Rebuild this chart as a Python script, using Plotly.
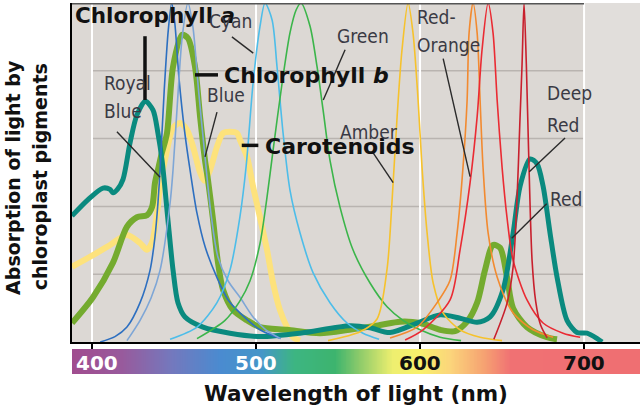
import numpy as np
import plotly.graph_objects as go

# ---------------- data ----------------
CHLA_NM = [387.8, 397.6, 406.7, 411.0, 412.8, 415.5, 418.9, 423.2, 427.4, 432.5, 437.2, 440.2, 442.7,
           446.3, 449.4, 452.4, 456.7, 467.7, 484.1, 502.4, 526.8, 557.3, 569.5, 581.7, 598.2, 612.2,
           624.4, 634.8, 642.7, 650.6, 656.7, 661.0, 667.1, 671.3, 675.0, 679.3, 683.5, 689.6, 695.7,
           701.8, 708.0, 711.0]
CHLA_V = [1.86, 2.10, 2.27, 2.25, 2.20, 2.25, 2.40, 2.94, 3.35, 3.55, 3.42, 3.08, 2.68,
          1.80, 1.06, 0.58, 0.37, 0.22, 0.13, 0.08, 0.13, 0.24, 0.21, 0.14, 0.28, 0.40,
          0.35, 0.29, 0.37, 0.77, 1.60, 2.30, 2.70, 2.63, 2.30, 1.60, 0.96, 0.32, 0.14,
          0.13, 0.05, 0.0]

CHLB_NM = [387.8, 400.6, 412.8, 421.3, 427.4, 433.5, 436.6, 438.4, 440.2, 442.5, 445.7, 449.4, 454.9,
           458.5, 462.8, 465.9, 468.9, 470.7, 473.8, 476.8, 479.9, 486.0, 494.5, 502.4, 519.0, 539.0,
           557.0, 575.6, 587.8, 600.0, 612.2, 621.3, 628.7, 634.8, 639.6, 644.5, 648.8, 653.0, 656.7,
           665.2, 677.4, 683.5]
CHLB_V = [0.28, 0.66, 1.17, 1.70, 1.84, 1.87, 1.99, 2.35, 2.54, 2.78, 3.08, 4.06, 4.53,
          4.48, 4.06, 3.32, 2.68, 2.39, 1.80, 1.17, 0.77, 0.47, 0.32, 0.22, 0.18, 0.13,
          0.18, 0.25, 0.30, 0.28, 0.18, 0.16, 0.30, 0.58, 1.06, 1.43, 1.39, 0.96, 0.50,
          0.22, 0.07, 0.04]

CARO_NM = [387.8, 400.6, 411.0, 421.3, 429.3, 433.5, 436.6, 439.6, 441.5, 445.7, 449.4, 453.7, 457.9,
           461.6, 465.9, 468.5, 472.0, 476.2, 479.9, 484.1, 488.4, 490.2, 494.5, 498.2, 502.4, 506.7,
           510.4, 514.6, 518.9, 522.6, 526.8]
CARO_V = [1.11, 1.28, 1.43, 1.58, 1.46, 1.36, 1.47, 1.90, 2.29, 2.83, 3.16, 3.23, 3.13,
          2.88, 2.50, 2.38, 2.54, 2.88, 3.08, 3.10, 3.08, 2.98, 2.73, 2.29, 1.84, 1.36,
          0.87, 0.47, 0.22, 0.07, 0.02]

ROYAL_NM = [405.0, 414.0, 421.3, 429.3, 435.4, 438.4, 440.2, 441.5, 444.0, 446.5, 448.6, 450.5, 453.0,
            456.5, 460.0, 464.0, 469.0, 476.2, 483.0, 490.2, 502.4, 515.0]
ROYAL_V = [0.0, 0.08, 0.22, 0.58, 1.06, 1.55, 2.05, 2.54, 3.7, 4.6, 5.0, 4.7, 3.9,
           3.1, 2.5, 1.9, 1.4, 0.95, 0.62, 0.43, 0.18, 0.05]

BLUE_NM = [421.3, 429.3, 436.0, 441.5, 447.6, 449.4, 452.0, 455.0, 458.5, 461.5, 465.0, 468.9, 472.5,
           476.8, 483.0, 490.2, 498.2, 506.0, 515.0]
BLUE_V = [0.02, 0.32, 0.65, 1.06, 2.05, 2.54, 3.5, 4.5, 5.0, 4.65, 3.7, 2.73, 1.9,
          1.25, 0.9, 0.66, 0.37, 0.18, 0.05]

CYAN_NM = [447.6, 464.0, 476.2, 484.1, 490.2, 494.0, 498.2, 502.4, 505.5, 509.8, 512.8, 516.5, 520.7,
           526.8, 534.8, 545.1, 555.5, 565.2, 575.0]
CYAN_V = [0.04, 0.22, 0.58, 1.06, 1.85, 2.6, 3.82, 4.65, 5.0, 4.75, 4.06, 3.08, 2.24,
          1.61, 1.02, 0.58, 0.28, 0.13, 0.04]

GREEN_NM = [464.0, 481.1, 490.0, 496.3, 502.4, 506.5, 510.4, 515.9, 520.7, 524.5, 527.4, 532.9, 537.2,
            540.9, 545.1, 551.2, 559.1, 569.5, 579.9, 589.6, 600.0, 612.2, 625.0]
GREEN_V = [0.05, 0.32, 0.6, 0.9, 1.45, 2.1, 2.83, 3.82, 4.56, 4.9, 5.0, 4.66, 4.06,
           3.42, 2.68, 1.99, 1.36, 0.87, 0.52, 0.32, 0.18, 0.07, 0.02]

AMBER_NM = [543.9, 563.4, 573.8, 579.9, 582.9, 586.0, 589.0, 592.7, 595.7, 598.8, 601.2, 604.3, 608.0,
            614.0, 624.4, 636.6, 650.0]
AMBER_V = [0.02, 0.15, 0.34, 1.08, 2.07, 3.32, 4.31, 5.0, 4.56, 3.57, 2.58, 1.61, 0.87,
           0.43, 0.18, 0.07, 0.02]

REDOR_NM = [581.7, 598.2, 610.4, 618.3, 622.6, 626.2, 628.7, 629.9, 632.3, 634.8, 636.6, 638.4, 641.5,
            647.0, 656.7, 668.9, 681.1]
REDOR_V = [0.06, 0.22, 0.58, 0.91, 1.61, 2.58, 3.57, 4.56, 5.0, 4.56, 3.57, 2.58, 1.61,
           0.96, 0.43, 0.18, 0.07]

RED_NM = [590.9, 601.8, 618.3, 624.4, 630.5, 634.8, 637.8, 641.5, 644.5, 647.0, 650.0, 653.0, 656.7,
          665.2, 675.0, 687.2, 697.6]
RED_V = [0.03, 0.18, 0.62, 1.36, 2.35, 3.32, 4.31, 5.0, 4.56, 3.57, 2.58, 1.84, 1.21,
         0.62, 0.28, 0.13, 0.07]

DEEP_NM = [645.0, 653.0, 656.7, 659.1, 660.8, 662.2, 663.4, 664.8, 666.2, 668.3, 670.5, 673.5, 677.5]
DEEP_V = [0.04, 0.57, 1.1, 2.1, 3.2, 4.1, 5.0, 4.1, 2.8, 1.2, 0.6, 0.25, 0.06]

TICK_NM = [400, 500, 600, 700]
TICK_LABELS = ["400", "500", "600", "700"]
GRID_V = [1, 2, 3, 4]

SPEC_NM = [386, 418, 448, 478, 503, 523, 548, 563, 583, 600, 618, 638, 655, 734]
SPEC_COL = ["#a14c8e", "#985a9c", "#7478bd", "#4a8bd0", "#4596c8", "#3db582", "#3db46e",
            "#8ecb6a", "#eeef6f", "#f8f06c", "#fbd57b", "#f6a472", "#f07173", "#ef6f72"]

X0, X1 = 387.8, 734.1

fig = go.Figure()

# spectrum bar
spec_x = np.arange(386.0, 735.0, 1.0)
cs = [[(nm - SPEC_NM[0]) / (SPEC_NM[-1] - SPEC_NM[0]), c] for nm, c in zip(SPEC_NM, SPEC_COL)]
fig.add_trace(go.Heatmap(x=spec_x, y=[0, 1], z=[spec_x, spec_x], colorscale=cs,
                         zmin=SPEC_NM[0], zmax=SPEC_NM[-1], showscale=False, zsmooth="best",
                         xaxis="x", yaxis="y2", hoverinfo="skip"))

def line(xs, ys, color, width):
    fig.add_trace(go.Scatter(x=xs, y=ys, mode="lines", line=dict(color=color, width=width, shape="spline", smoothing=0.8),
                             hoverinfo="skip", showlegend=False))

line(CARO_NM, CARO_V, "#fde27c", 6)
line(CHLB_NM, CHLB_V, "#74ab2f", 6)
line(CHLA_NM, CHLA_V, "#0a8a7f", 5)
line(ROYAL_NM, ROYAL_V, "#2d6fc0", 1.6)
line(BLUE_NM, BLUE_V, "#7ea6d6", 1.6)
line(CYAN_NM, CYAN_V, "#4dbde9", 1.6)
line(GREEN_NM, GREEN_V, "#3bb54a", 1.6)
line(AMBER_NM, AMBER_V, "#f6c22c", 1.6)
line(REDOR_NM, REDOR_V, "#f28a30", 1.6)
line(RED_NM, RED_V, "#ea2b33", 1.6)
line(DEEP_NM, DEEP_V, "#c8202d", 1.6)

shapes = []
shapes.append(dict(type="rect", xref="x", yref="y", x0=700, x1=X1, y0=0, y1=5,
                   fillcolor="#e1dedb", line=dict(width=0), layer="below"))
for g in GRID_V:
    shapes.append(dict(type="line", xref="x", yref="y", x0=400, x1=700, y0=g, y1=g,
                       line=dict(color="#b9b4b0", width=1.5), layer="below"))
for t in TICK_NM:
    shapes.append(dict(type="line", xref="x", yref="y", x0=t, x1=t, y0=0, y1=5,
                       line=dict(color="white", width=2), layer="below"))
shapes.append(dict(type="line", xref="x", yref="y", x0=X0, x1=700, y0=4.99, y1=4.99,
                   line=dict(color="#555555", width=1.5), layer="above"))

# label pointers
POINTERS = [(415.2, 3.10, 441.5, 2.43), (476.2, 3.39, 468.9, 2.73), (485.3, 4.50, 498.3, 4.26),
            (554.3, 4.31, 541.0, 3.57), (571.4, 2.79, 583.6, 2.35), (614.1, 4.18, 630.5, 2.44),
            (688.4, 3.01, 666.6, 2.51), (677.2, 2.04, 655.9, 1.53)]
for x0, y0, x1, y1 in POINTERS:
    shapes.append(dict(type="line", xref="x", yref="y", x0=x0, y0=y0, x1=x1, y1=y1,
                       line=dict(color="#2a2a2a", width=1.4), layer="above"))
BOLD_POINTERS = [(432.3, 4.51, 432.3, 3.57), (462.8, 3.94, 476.8, 3.94), (491.3, 2.90, 501.4, 2.90)]
for x0, y0, x1, y1 in BOLD_POINTERS:
    shapes.append(dict(type="line", xref="x", yref="y", x0=x0, y0=y0, x1=x1, y1=y1,
                       line=dict(color="#111111", width=3.5), layer="above"))

BOLD = "DejaVu Sans"
NARROW = "Liberation Sans Narrow, DejaVu Sans Condensed, Liberation Sans, sans-serif"
anns = []

def ann(text, x, y, size, color, family, xanchor="left", weight="normal", xref="x", yref="y", angle=0):
    anns.append(dict(text=text, x=x, y=y, xref=xref, yref=yref, xanchor=xanchor, yanchor="middle",
                     showarrow=False, textangle=angle,
                     font=dict(family=family, size=size, color=color, weight=weight)))

ann("Chlorophyll <i>a</i>", 388.4, 4.81, 21.5, "#111111", BOLD, weight="bold")
ann("Chlorophyll <i>b</i>", 479.3, 3.93, 22, "#111111", BOLD, weight="bold")
ann("Carotenoids", 504.3, 2.88, 22, "#111111", BOLD, weight="bold")

LC = "#3a3a44"
ann("Royal", 406.1, 3.82, 19, LC, NARROW)
ann("Blue", 406.1, 3.40, 19, LC, NARROW)
ann("Blue", 468.9, 3.64, 19, LC, NARROW)
ann("Cyan", 470.1, 4.73, 19, LC, NARROW)
ann("Green", 548.2, 4.51, 19, LC, NARROW)
ann("Amber", 550.0, 3.10, 19, LC, NARROW)
ann("Red-", 597.0, 4.80, 19, LC, NARROW)
ann("Orange", 597.0, 4.38, 19, LC, NARROW)
ann("Deep", 676.2, 3.67, 19, LC, NARROW)
ann("Red", 676.2, 3.20, 19, LC, NARROW)
ann("Red", 678.0, 2.11, 19, LC, NARROW)

tick_pos = [403, 500, 600, 700]
tick_col = ["white", "white", "#111111", "#111111"]
for p, lab, c in zip(tick_pos, TICK_LABELS, tick_col):
    ann(lab, p, 0.45, 20, c, BOLD, xanchor="center", weight="bold", yref="y2")

ann("Wavelength of light (nm)", 0.5, -0.053, 21.5, "#111111", BOLD, xanchor="center",
    weight="bold", xref="paper", yref="paper")
ann("Absorption of light by", -0.104, 0.531, 19, "#111111", BOLD, xanchor="center",
    weight="bold", xref="paper", yref="paper", angle=-90)
ann("chloroplast pigments", -0.056, 0.531, 19, "#111111", BOLD, xanchor="center",
    weight="bold", xref="paper", yref="paper", angle=-90)

fig.update_layout(
    width=640, height=410,
    margin=dict(l=72, r=0, t=3, b=36, pad=0),
    paper_bgcolor="white", plot_bgcolor="#dcd8d4",
    showlegend=False,
    xaxis=dict(range=[X0, X1], showgrid=False, zeroline=False, showticklabels=False,
               ticks="outside", ticklen=5, tickwidth=1.5, tickcolor="black", tickvals=TICK_NM,
               showline=True, linecolor="black", linewidth=2, anchor="y"),
    yaxis=dict(domain=[0.08625, 1], range=[0, 5], showgrid=False, zeroline=False,
               showticklabels=False, showline=True, linecolor="black", linewidth=2, ticks=""),
    yaxis2=dict(domain=[0, 0.0674], range=[0, 1], visible=False, anchor="x"),
    shapes=shapes, annotations=anns,
)

fig.write_html("out.html")
